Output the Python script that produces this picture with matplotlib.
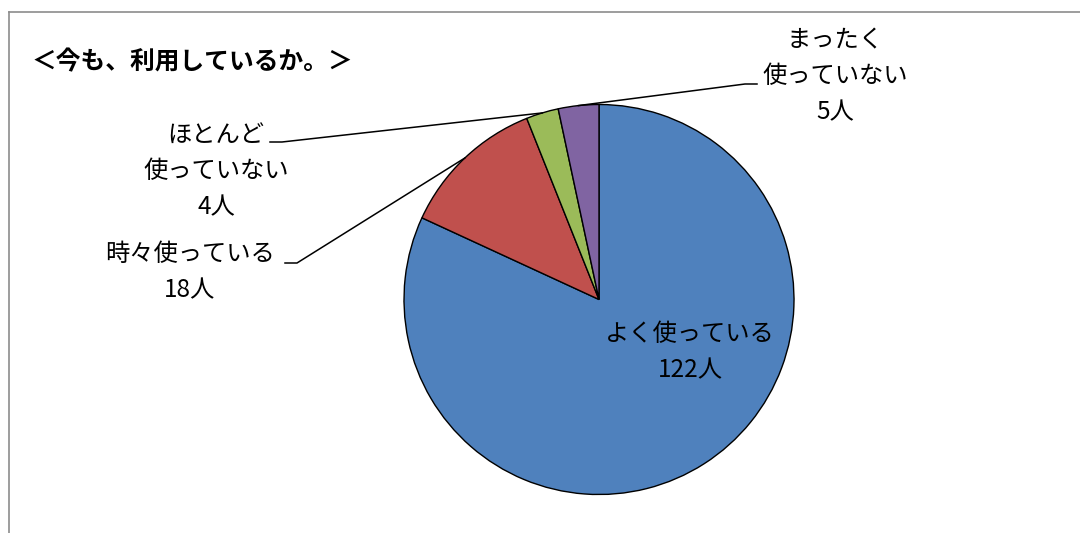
import numpy as np
import matplotlib.pyplot as plt

plt.rcParams['font.family'] = ['Noto Sans CJK JP', 'DejaVu Sans']

title = '＜今も、利用しているか。＞'
labels = ['よく使っている', '時々使っている', 'ほとんど\n使っていない', 'まったく\n使っていない']
counts = [122, 18, 4, 5]
colors = ['#4F81BD', '#C0504D', '#9BBB59', '#8064A2']

W, H = 1080, 533
fig = plt.figure(figsize=(W / 100, H / 100), dpi=100)
ax = fig.add_axes([0, 0, 1, 1])

cx, cy, r = 599, 299.5, 195
# y axis is inverted (pixel coords), so counterclock=True draws clockwise on screen
wedges, _ = ax.pie(counts, colors=colors, startangle=-90, counterclock=True,
                   center=(cx, cy), radius=r,
                   wedgeprops=dict(edgecolor='black', linewidth=1.0))
ax.set_xlim(0, W)
ax.set_ylim(H, 0)
ax.set_aspect('equal')
ax.axis('off')

# frame (top and left edges only visible)
ax.plot([9, W], [12, 12], color='#8c8c8c', lw=1.2, clip_on=False)
ax.plot([9, 9], [12, H], color='#8c8c8c', lw=1.2, clip_on=False)

ax.text(31, 62, title, fontsize=17.8, fontweight='bold', ha='left', va='center')

fs = 17.5
ls = 1.5

def mid_point(w):
    a = np.deg2rad((w.theta1 + w.theta2) / 2)
    return cx + r * np.cos(a), cy + r * np.sin(a)

# blue label inside the pie
ax.text(690, 352, labels[0] + '\n' + str(counts[0]) + '人', fontsize=fs,
        ha='center', va='center', linespacing=ls)

# outside labels: (text center, stub start, stub end)
outside = [
    (1, (190, 272), (297, 263), (285, 263)),
    (2, (216, 171), (282, 142), (270, 142)),
    (3, (835, 76), (745, 84), (757, 84)),
]
for i, tpos, s0, s1 in outside:
    ax.text(tpos[0], tpos[1], labels[i] + '\n' + str(counts[i]) + '人',
            fontsize=fs, ha='center', va='center', linespacing=ls)
    mx, my = mid_point(wedges[i])
    ax.plot([mx, s0[0], s1[0]], [my, s0[1], s1[1]], color='black', lw=1.1)

fig.savefig('out.png', dpi=100)
